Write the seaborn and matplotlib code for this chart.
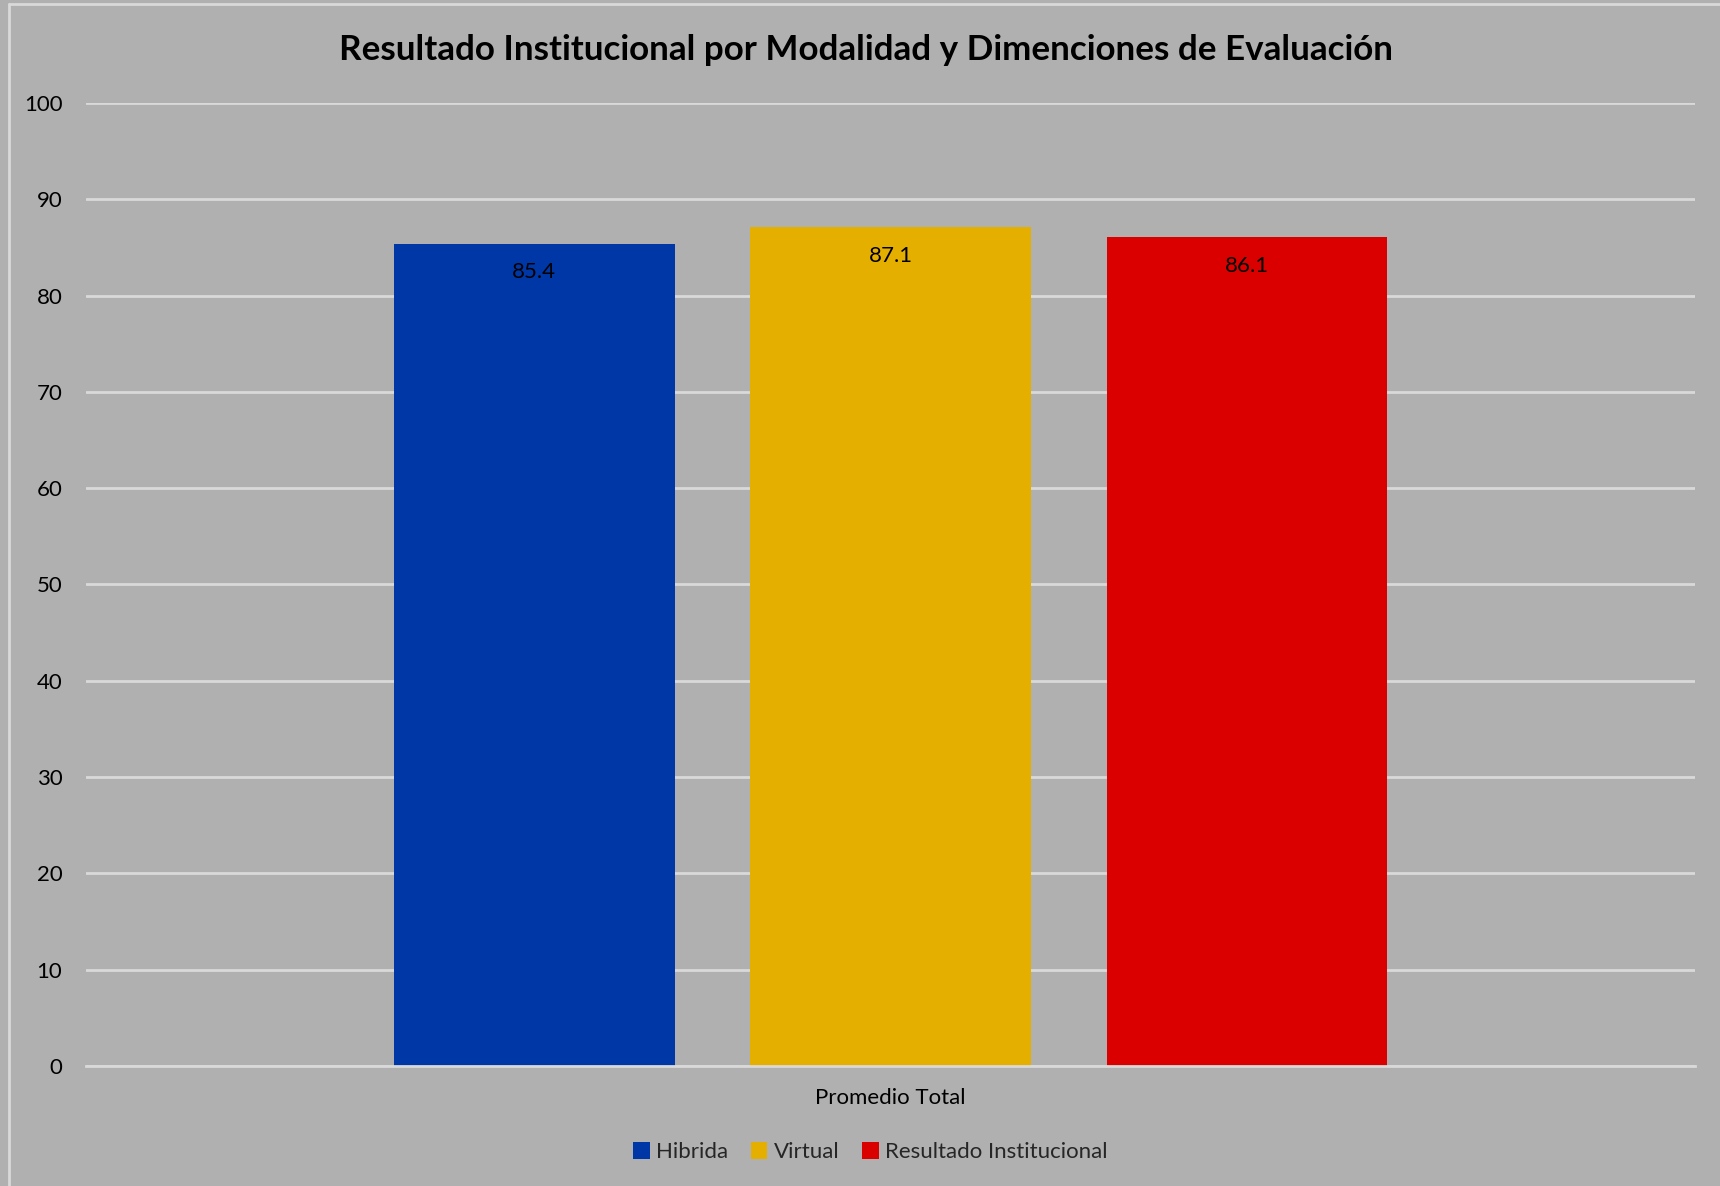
import matplotlib
matplotlib.use("Agg")
import matplotlib.pyplot as plt
import seaborn as sns
import pandas as pd
from matplotlib.lines import Line2D
from matplotlib.patches import Patch

categories = ["Promedio Total"]
series = ["Hibrida", "Virtual", "Resultado Institucional"]
values = [85.4, 87.1, 86.1]
colors = ["#0037A6", "#E5AF00", "#DA0000"]
yticks = [0, 10, 20, 30, 40, 50, 60, 70, 80, 90, 100]
title = "Resultado Institucional por Modalidad y Dimenciones de Evaluación"

df = pd.DataFrame({"cat": categories * len(series), "serie": series, "valor": values})

sns.set_theme(style="white")
plt.rcParams["font.family"] = ["Lato", "DejaVu Sans"]

BG = "#B0B0B0"
GRID = "#D9D9D9"

fig = plt.figure(figsize=(17.2, 11.86), dpi=100, facecolor=BG)
ax = fig.add_axes([0.05, 0.1012, 0.9355, 0.812])
ax.set_facecolor(BG)

sns.barplot(data=df, x="cat", y="valor", hue="serie", hue_order=series,
            palette=colors, width=0.6645, gap=0.212, saturation=1, ax=ax,
            legend=False, edgecolor="none", linewidth=0)

ax.set_ylim(0, 100)
ax.set_xlim(-0.5, 0.5)
ax.set_yticks(yticks)
ax.set_yticklabels([str(v) for v in yticks])
ax.yaxis.grid(True, color=GRID, linewidth=2)
ax.set_axisbelow(True)
for s in ["top", "right", "left"]:
    ax.spines[s].set_visible(False)
ax.spines["bottom"].set_color(GRID)
ax.spines["bottom"].set_linewidth(2)
ax.tick_params(axis="y", length=0, pad=17, labelsize=16, labelcolor="#000000")
ax.tick_params(axis="x", length=0, pad=16, labelsize=16, labelcolor="#000000")
ax.set_xlabel("")
ax.set_ylabel("")

for cont in ax.containers:
    ax.bar_label(cont, labels=[f"{v:.1f}" for v in cont.datavalues],
                 padding=-28, fontsize=16, color="#000000")

fig.suptitle(title, x=0.5035, y=0.971, fontsize=25.2, fontweight="bold", color="#000000")

handles = [Patch(facecolor=c, edgecolor="none") for c in colors]
fig.legend(handles, series, loc="center", bbox_to_anchor=(0.506, 0.0285), ncol=3,
           frameon=False, fontsize=16, handlelength=0.75, handleheight=0.75,
           handletextpad=0.3, columnspacing=1.0)

fig.add_artist(Line2D([0.0052, 0.0052], [0, 0.997], transform=fig.transFigure, color=GRID, linewidth=2))
fig.add_artist(Line2D([0.0052, 1], [0.997, 0.997], transform=fig.transFigure, color=GRID, linewidth=2))

fig.savefig("out.png", dpi=100, facecolor=BG)
